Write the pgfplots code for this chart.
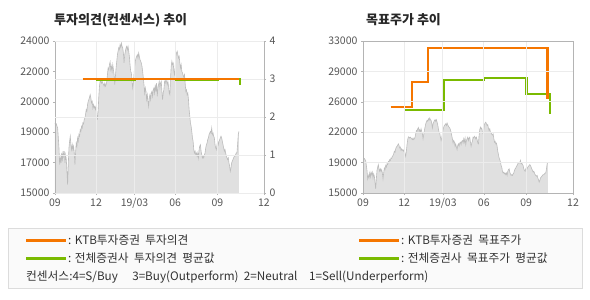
\documentclass[border=0pt]{standalone}
\usepackage{pgfplots}
\usepackage{pgfplotstable}
\pgfplotsset{compat=1.18}
\usepackage{fontspec}
\setmainfont{Noto Sans CJK KR}
\definecolor{orng}{RGB}{245,118,0}
\definecolor{grn}{RGB}{122,186,0}
\definecolor{pfill}{RGB}{224,224,224}
\definecolor{pline}{RGB}{188,188,188}
\definecolor{gridc}{RGB}{236,236,236}
\definecolor{axc}{RGB}{180,180,180}
\definecolor{tickc}{RGB}{85,85,85}
\pgfplotstableread{
x y
0 19150
1 19010
2 19090
3 18950
4 18850
5 18260
6 17670
7 16680
8 17080
9 16780
10 17370
11 16880
12 17470
13 17170
14 17470
15 16780
16 17270
17 16980
18 16290
19 15500
20 16680
21 17670
22 18060
23 18360
24 17860
25 17570
26 17860
27 17570
28 17770
29 17370
30 16680
31 17370
32 17960
33 17770
34 18260
35 18060
36 18460
37 18360
38 18750
39 18650
40 18950
41 18850
42 19150
43 19090
44 19340
45 19440
46 19640
47 19940
48 19840
49 20230
50 20430
51 20530
52 20670
53 20820
54 20630
55 20330
56 20430
57 20040
58 20230
59 20040
60 20130
61 19940
62 20130
63 19640
64 19340
65 19940
66 20730
67 21320
68 21650
69 21610
70 21510
71 21610
72 21510
73 21420
74 21320
75 21510
76 21320
77 21420
78 21610
79 22010
80 22400
81 22300
82 22600
83 22760
84 22300
85 22500
86 22200
87 22600
88 22300
89 22010
90 21420
91 21910
92 22400
93 22800
94 23190
95 23400
96 23600
97 23500
98 23780
99 23630
100 23880
101 23680
102 23590
103 23290
104 22700
105 23190
106 23390
107 23590
108 23680
109 23490
110 23680
111 23390
112 23090
113 22600
114 22200
115 22110
116 21610
117 21220
118 21510
119 22010
120 22500
121 22800
122 22990
123 23090
124 23190
125 22990
126 23290
127 23090
128 22900
129 22800
130 22700
131 22500
132 22200
133 21810
134 21420
135 20920
136 21220
137 21020
138 20530
139 20820
140 20430
141 20130
142 20630
143 20820
144 20530
145 20920
146 21020
147 20730
148 21120
149 21220
150 20920
151 21420
152 21020
153 21510
154 20730
155 21220
156 21420
157 21610
158 21220
159 21510
160 21610
161 21020
162 20530
163 20920
164 21120
165 21610
166 21510
167 21710
168 21610
169 21420
170 21610
171 21320
172 20920
173 20820
174 21810
175 22500
176 22800
177 22600
178 22700
179 22200
180 22010
181 22500
182 23090
183 23290
184 23390
185 23190
186 22990
187 23090
188 22700
189 22400
190 22600
191 22200
192 22110
193 21960
194 21860
195 22010
196 21510
197 21020
198 21120
199 20820
200 20920
201 20530
202 19940
203 19540
204 19150
205 18950
206 18650
207 18260
208 18060
209 17570
210 17370
211 17470
212 17270
213 17370
214 17170
215 17370
216 17080
217 17570
218 17770
219 17860
220 17470
221 17270
222 17080
223 17170
224 17080
225 17270
226 17370
227 17670
228 17860
229 17960
230 18160
231 18260
232 18460
233 18550
234 18650
235 18550
236 18850
237 18460
238 18550
239 18360
240 18260
241 17860
242 17670
243 17570
244 17860
245 18060
246 17860
247 18060
248 18160
249 18260
250 18360
251 18260
252 18060
253 17860
254 17670
255 17470
256 17570
257 17370
258 17170
259 17080
260 16980
261 17080
262 16780
263 16580
264 16290
265 16480
266 16780
267 16880
268 16980
269 17080
270 17170
271 17170
272 17270
273 17370
274 17370
275 17860
276 18460
277 18650
}\price
\pgfplotstableread{
x y
41.5 3
277.5 3
}\ktbop
\pgfplotstableread{
x y
61.5 2.965
121 2.965
121 3
181.5 3
181.5 2.965
245 2.965
245 3
279 3
279 2.83
}\avgop
\pgfplotstableread{
x y
41.5 25170
73 25170
73 28170
97 28170
97 32170
276.5 32170
276.5 26120
}\ktbtp
\pgfplotstableread{
x y
61.5 24850
121 24850
121 28410
181.5 28410
181.5 28650
245 28650
245 26710
280 26710
280 24300
}\avgtp
\pgfplotsset{
  base/.style={
    scale only axis, width=209pt, height=152pt,
    xmin=0, xmax=314.75,
    xtick={0,61.75,119.75,181,244.5,314.75},
    xticklabels={09,12,19/03,06,09,12},
    scaled y ticks=false, scaled x ticks=false,
    tick align=outside, major tick length=2pt,
    every tick/.style={axc},
    axis line style={axc},
    tick label style={font=\fontsize{10.5}{12}\selectfont, text=tickc},
    /pgf/number format/assume math mode=true,
    grid style={gridc, line width=0.8pt},
    xtick pos=bottom, ytick pos=left,
  },
}
\begin{document}
\begin{tikzpicture}
\path[use as bounding box] (0,0) rectangle (590pt,-300pt);
% titles
\node[anchor=west, font=\fontsize{13}{15}\selectfont\bfseries, text={rgb,255:red,40;green,40;blue,40}, inner sep=0] at (54pt,-20pt) {투자의견(컨센서스)\ 추이};
\node[anchor=west, font=\fontsize{13}{15}\selectfont\bfseries, text={rgb,255:red,40;green,40;blue,40}, inner sep=0] at (366pt,-20pt) {목표주가\ 추이};
% left chart: price
\begin{axis}[base, at={(55pt,-193pt)}, anchor=south west,
  ymin=15000, ymax=24000,
  ytick={15000,16800,18600,20400,22200,24000},
  yticklabels={15000,17000,19000,20000,22000,24000},
  xmajorgrids, axis on top]
\addplot[draw=none, fill=pfill] table {\price} \closedcycle;
\addplot[pline, line width=0.6pt] table {\price};
\end{axis}
% left chart: consensus
\begin{axis}[base, at={(55pt,-193pt)}, anchor=south west,
  ymin=0, ymax=4, ytick={0,1,2,3,4},
  axis x line=none, axis y line*=right, ytick pos=right,
  ymajorgrids]
\addplot[grn, line width=2pt] table {\avgop};
\addplot[orng, line width=2.2pt] table {\ktbop};
\end{axis}
% right chart
\begin{axis}[base, width=210pt, at={(363pt,-193pt)}, anchor=south west,
  ymin=15000, ymax=33000,
  ytick={15000,18600,22200,25800,29400,33000},
  yticklabels={15000,19000,22000,26000,29000,33000},
  grid=major, axis on top]
\addplot[draw=none, fill=pfill] table {\price} \closedcycle;
\addplot[pline, line width=0.6pt] table {\price};
\addplot[grn, line width=2.4pt] table {\avgtp};
\addplot[orng, line width=2.4pt] table {\ktbtp};
\end{axis}
% legend box
\draw[draw={rgb,255:red,220;green,220;blue,220}, fill={rgb,255:red,250;green,250;blue,250}, line width=0.8pt] (8pt,-228pt) rectangle (582pt,-288pt);
\draw[orng, line width=3pt] (26pt,-240pt) -- (66pt,-240pt);
\draw[grn, line width=3pt] (26pt,-258pt) -- (66pt,-258pt);
\draw[orng, line width=3pt] (359pt,-240pt) -- (399pt,-240pt);
\draw[grn, line width=3pt] (359pt,-258pt) -- (399pt,-258pt);
\begin{scope}[every node/.style={anchor=west, inner sep=0, font=\fontsize{11.7}{13}\selectfont, text={rgb,255:red,50;green,50;blue,50}}]
\node at (68pt,-240pt) {: KTB투자증권\ \ 투자의견};
\node at (68pt,-258pt) {: 전체증권사\ \ 투자의견\ \ 평균값};
\node at (401pt,-240pt) {: KTB투자증권\ \ 목표주가};
\node at (401pt,-258pt) {: 전체증권사\ \ 목표주가\ \ 평균값};
\node at (26pt,-277pt) {컨센서스:4=S/Buy\quad\ 3=Buy(Outperform)\ \ 2=Neutral\quad 1=Sell(Underperform)};
\end{scope}
\end{tikzpicture}
\end{document}
